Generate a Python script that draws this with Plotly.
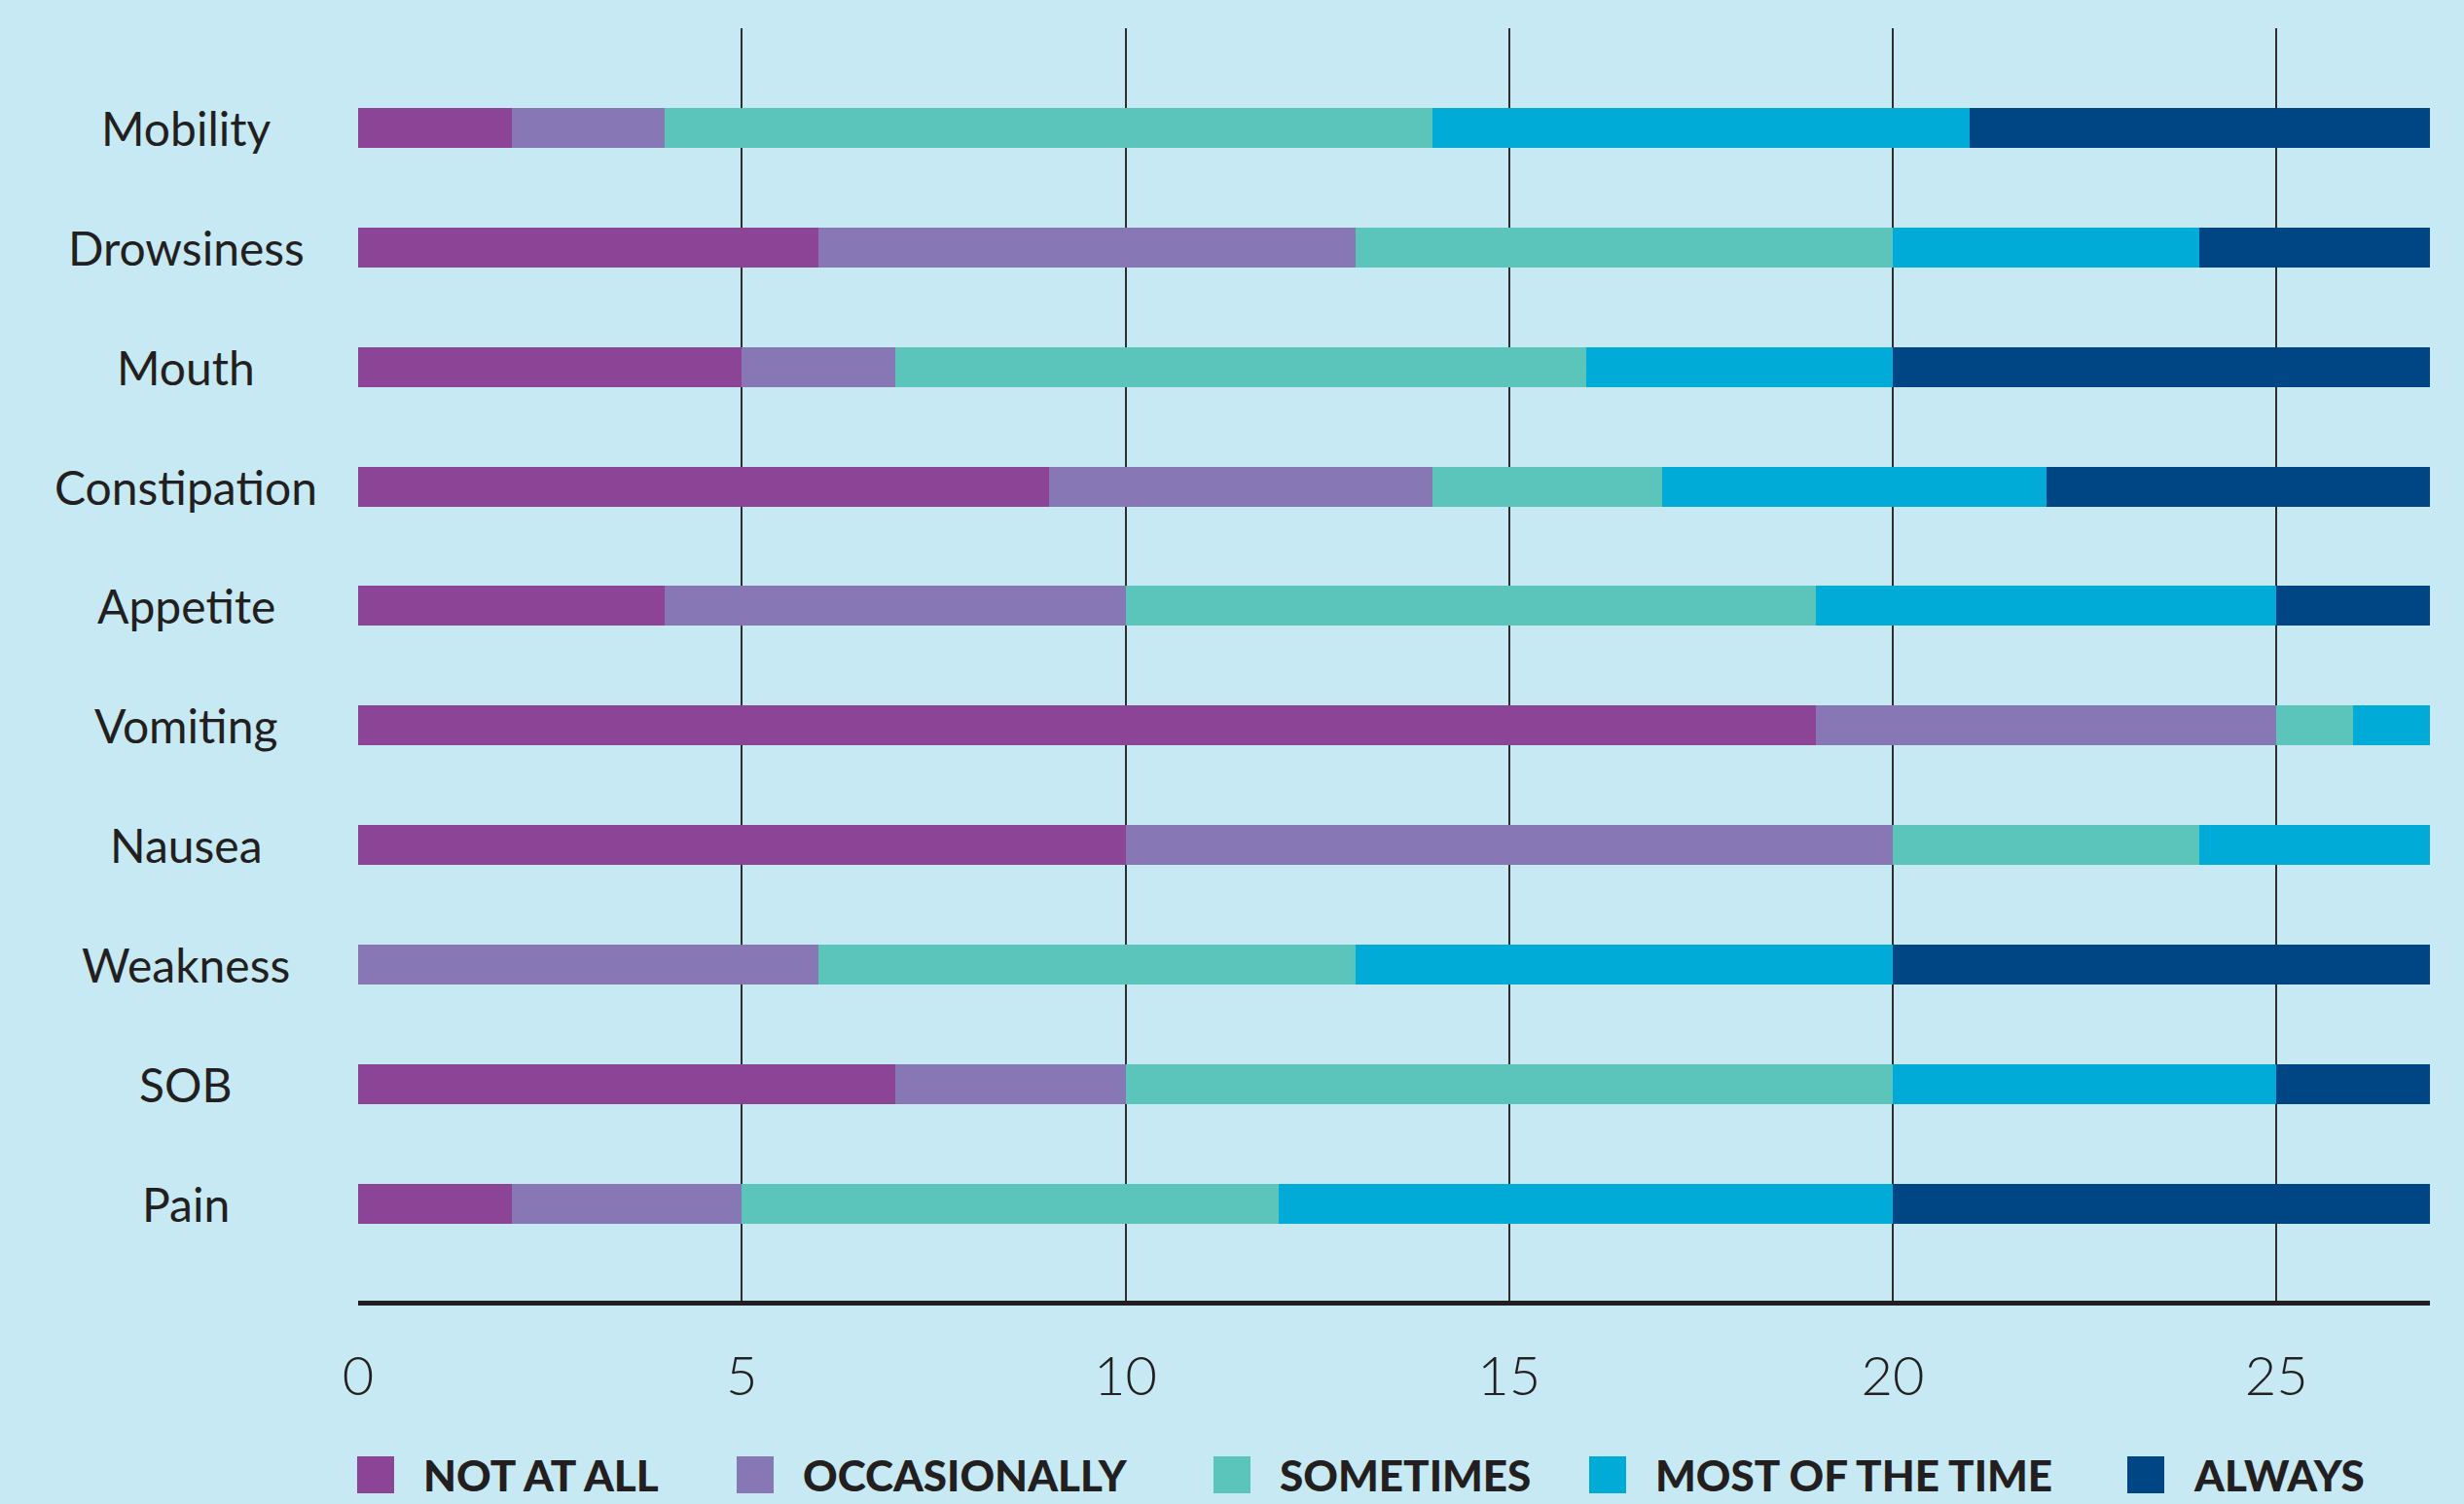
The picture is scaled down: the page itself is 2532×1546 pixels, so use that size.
import plotly.graph_objects as go

# ---- data ----
categories = ["Mobility", "Drowsiness", "Mouth", "Constipation", "Appetite",
              "Vomiting", "Nausea", "Weakness", "SOB", "Pain"]
series_names = ["NOT AT ALL", "OCCASIONALLY", "SOMETIMES", "MOST OF THE TIME", "ALWAYS"]
not_at_all   = [2, 6, 5, 9, 4, 19, 10, 0, 7, 2]
occasionally = [2, 7, 2, 5, 6, 6, 10, 6, 3, 3]
sometimes    = [10, 7, 9, 3, 9, 1, 4, 7, 10, 7]
most_of_time = [7, 4, 4, 5, 6, 1, 3, 7, 5, 8]
always       = [6, 3, 7, 5, 2, 0, 0, 7, 2, 7]
series_values = [not_at_all, occasionally, sometimes, most_of_time, always]
x_ticks = [0, 5, 10, 15, 20, 25]

# ---- styles ----
colors = ["#8c4496", "#8877b5", "#5bc4bb", "#00acd7", "#004684"]
bg = "#c6e9f3"
ink = "#231f20"
W, H = 2532, 1546
L, R, T, B = 368, 35, 29, 209
plot_w = W - L - R
plot_h = H - T - B

fig = go.Figure()
for name, vals, col in zip(series_names, series_values, colors):
    fig.add_trace(go.Bar(
        y=categories, x=vals, name=name, orientation="h",
        marker=dict(color=col, line=dict(width=0)),
        width=0.334, showlegend=False,
    ))

# centred category labels
for c in categories:
    fig.add_annotation(
        x=(191 - L) / plot_w, xref="paper", y=c, yref="y",
        text=c, showarrow=False, xanchor="center", yanchor="middle",
        font=dict(family="Lato", size=48, color=ink),
    )

# custom legend with large square swatches
sq_x = [367, 757, 1247, 1633, 2186]
sq = 38
leg_cy = 1516
for name, col, sx in zip(series_names, colors, sq_x):
    fig.add_shape(
        type="rect", xref="paper", yref="paper",
        x0=(sx - L) / plot_w, x1=(sx + sq - L) / plot_w,
        y0=(H - B - (leg_cy - sq / 2)) / plot_h, y1=(H - B - (leg_cy + sq / 2)) / plot_h,
        fillcolor=col, line=dict(width=0),
    )
    fig.add_annotation(
        x=(sx + 66 - L) / plot_w, xref="paper",
        y=(H - B - leg_cy) / plot_h, yref="paper",
        text=name, showarrow=False, xanchor="left", yanchor="middle",
        font=dict(family="Lato", size=44, color=ink, weight=900),
    )

fig.update_layout(
    width=W, height=H,
    barmode="stack",
    paper_bgcolor=bg, plot_bgcolor=bg,
    margin=dict(l=L, r=R, t=T, b=B, pad=0),
    showlegend=False,
    xaxis=dict(
        range=[0, 27], tickvals=x_ticks, ticktext=[str(v) for v in x_ticks],
        showgrid=True, gridcolor="#2e2e2e", gridwidth=2,
        zeroline=False,
        showline=True, linecolor=ink, linewidth=5,
        ticks="outside", ticklen=25, tickcolor="rgba(0,0,0,0)",
        tickfont=dict(family="Lato", size=56, color=ink, weight=300),
        fixedrange=True,
    ),
    yaxis=dict(
        categoryorder="array", categoryarray=list(reversed(categories)),
        range=[-0.814, 9.836],
        showticklabels=False, showgrid=False, zeroline=False, showline=False,
        fixedrange=True,
    ),
)

fig.write_html("out.html", config={"displayModeBar": False},
               post_script="document.body.style.margin='0';document.body.style.padding='0';document.body.style.background='%s';" % bg)
